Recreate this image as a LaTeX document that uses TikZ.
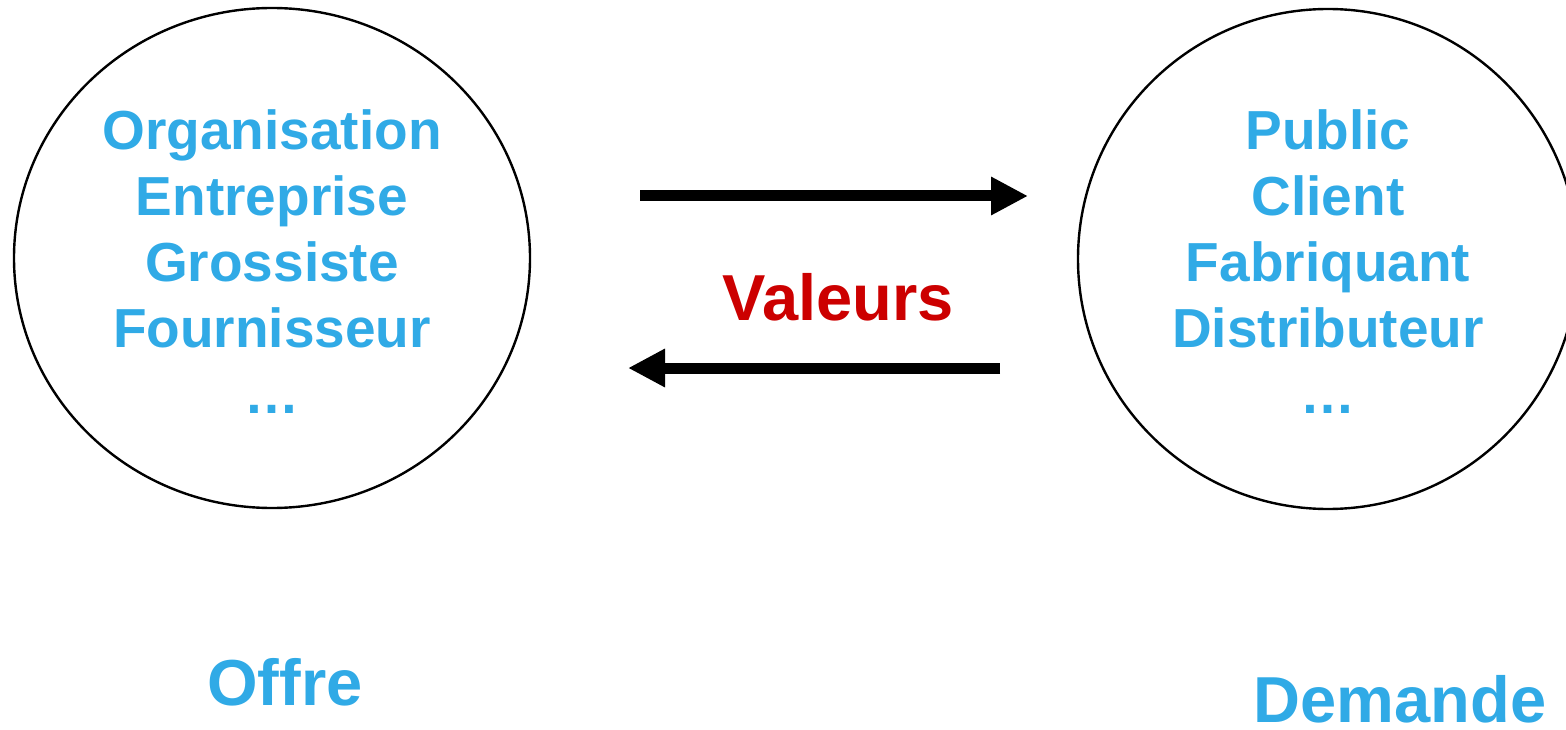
\documentclass[tikz,border=0pt]{standalone}
\usepackage{fontspec}
\setmainfont{Liberation Sans}
\usepackage{tikz}
\usetikzlibrary{shapes.geometric,arrows.meta,positioning}

\definecolor{roleblue}{RGB}{48,170,230}
\definecolor{valred}{RGB}{204,0,0}

\begin{document}
\begin{tikzpicture}[
    x=1pt, y=-1pt,
    side/.style={ellipse, draw, line width=2.4pt, inner sep=0pt,
                 minimum height=500pt},
    roles/.style={align=center, text=roleblue, inner sep=0pt,
                  font=\fontsize{55}{66}\selectfont\bfseries},
    pole/.style={text=roleblue, anchor=base, inner sep=0pt,
                 font=\fontsize{65}{78}\selectfont\bfseries},
    vallbl/.style={text=valred, anchor=base, inner sep=0pt,
                   font=\fontsize{65}{78}\selectfont\bfseries},
    flow/.style={-{Triangle[length=37pt, width=36pt]}, line width=11pt},
  ]
  \useasboundingbox (0,0) rectangle (1566,730);

  % === Offre ===
  \node[side, minimum width=516pt] (offre) at (272,258) {};
  \node[roles] (offretxt) at (272,262)
    {Organisation\\Entreprise\\Grossiste\\Fournisseur\\…};
  \node[pole] (offrelbl) at (285,705) {Offre};

  % === Demande ===
  \node[side, minimum width=500pt] (demande) at (1328,259) {};
  \node[roles] (demandetxt) at (1328,262)
    {Public\\Client\\Fabriquant\\Distributeur\\…};
  \node[pole] (demandelbl) at (1400,722) {Demande};

  % === Echange de valeurs ===
  \coordinate (fwdS) at (640,196);
  \coordinate (fwdE) at (1028,196);
  \coordinate (bwdS) at (1000,368);
  \coordinate (bwdE) at (628,368);
  \draw[flow] (fwdS) -- (fwdE);
  \draw[flow] (bwdS) -- (bwdE);
  \node[vallbl] (val) at (838,320) {Valeurs};

\end{tikzpicture}
\end{document}
